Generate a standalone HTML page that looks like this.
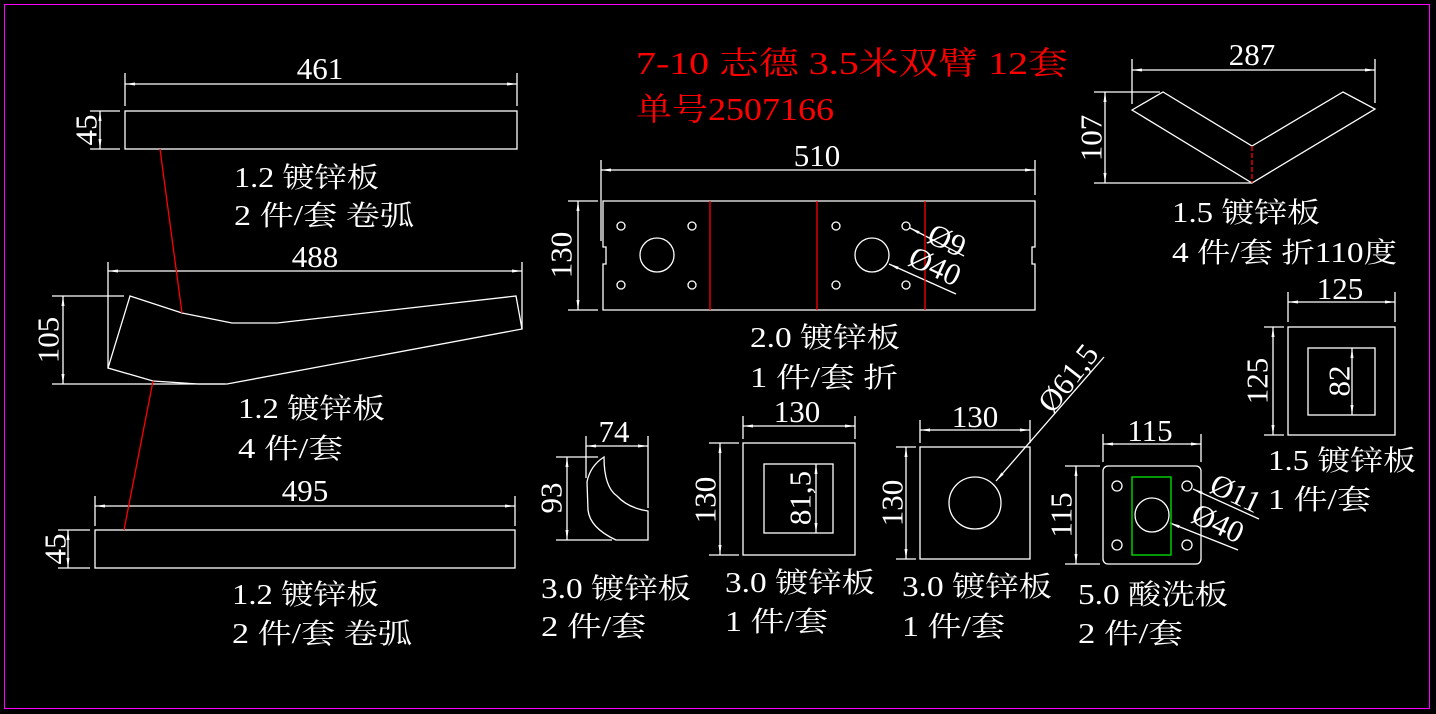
<!DOCTYPE html>
<html><head><meta charset="utf-8"><style>
html,body{margin:0;padding:0;background:#000;}
svg{display:block}
text{font-family:"Liberation Serif","Noto Serif CJK SC",serif;fill:#fff;font-size:28px}
.d{font-size:31px}
.r{fill:#f00;font-size:32px}
</style></head><body>
<svg width="1436" height="714" viewBox="0 0 1436 714" xmlns="http://www.w3.org/2000/svg">
<defs>
<marker id="a" markerWidth="10" markerHeight="6" refX="10" refY="3" orient="auto-start-reverse" markerUnits="userSpaceOnUse"><path d="M10,3 L0,1.5 L0,4.5 Z" fill="#fff"/></marker>
</defs>
<rect x="0" y="0" width="1436" height="714" fill="#000"/>
<rect x="4.5" y="4.5" width="1425" height="704" fill="none" stroke="#f0f" stroke-width="1"/>
<g fill="none" stroke="#fff" stroke-width="1.3">
<rect x="125" y="111" width="392" height="38"/>
<line x1="125" y1="73" x2="125" y2="106"/><line x1="517" y1="73" x2="517" y2="106"/>
<line x1="125" y1="84" x2="517" y2="84" marker-start="url(#a)" marker-end="url(#a)"/>
<line x1="90" y1="111" x2="120" y2="111"/><line x1="90" y1="149" x2="120" y2="149"/>
<line x1="100" y1="111" x2="100" y2="149" marker-start="url(#a)" marker-end="url(#a)"/>
<polygon points="130,296 182,313 232,323 277,323 516,296 522,329 227,384 198,384 153,381 108,368"/>
<line x1="108" y1="262" x2="108" y2="368"/><line x1="522" y1="262" x2="522" y2="329"/>
<line x1="108" y1="271" x2="522" y2="271" marker-start="url(#a)" marker-end="url(#a)"/>
<line x1="52" y1="296" x2="124" y2="296"/><line x1="52" y1="384" x2="225" y2="384"/>
<line x1="63" y1="296" x2="63" y2="384" marker-start="url(#a)" marker-end="url(#a)"/>
<rect x="95" y="530" width="420" height="38"/>
<line x1="95" y1="496" x2="95" y2="526"/><line x1="515" y1="496" x2="515" y2="526"/>
<line x1="95" y1="506" x2="515" y2="506" marker-start="url(#a)" marker-end="url(#a)"/>
<line x1="58" y1="530" x2="90" y2="530"/><line x1="58" y1="568" x2="90" y2="568"/>
<line x1="68" y1="530" x2="68" y2="568" marker-start="url(#a)" marker-end="url(#a)"/>
<path d="M603,201 L1035,201 L1035,247 L1032,247 L1032,264 L1035,264 L1035,310 L603,310 L603,264 L606,264 L606,247 L603,247 Z"/>
<line x1="601" y1="160" x2="601" y2="241"/><line x1="1035" y1="160" x2="1035" y2="195"/>
<line x1="601" y1="170" x2="1035" y2="170" marker-start="url(#a)" marker-end="url(#a)"/>
<line x1="568" y1="201" x2="598" y2="201"/><line x1="568" y1="310" x2="598" y2="310"/>
<line x1="578" y1="201" x2="578" y2="310" marker-start="url(#a)" marker-end="url(#a)"/>
<circle cx="621" cy="226" r="4"/><circle cx="692" cy="226" r="4"/><circle cx="621" cy="285" r="4"/><circle cx="692" cy="285" r="4"/>
<circle cx="657" cy="255" r="17"/>
<circle cx="836" cy="226" r="4"/><circle cx="906" cy="226" r="4"/><circle cx="836" cy="285" r="4"/><circle cx="906" cy="285" r="4"/>
<circle cx="872" cy="255" r="17"/>
<line x1="964" y1="256" x2="910" y2="228" marker-end="url(#a)"/>
<line x1="956" y1="294" x2="889" y2="264" marker-end="url(#a)"/>
<polygon points="1132,110 1163,92 1252,146 1343,92 1375,109 1252,183"/>
<line x1="1132" y1="59" x2="1132" y2="104"/><line x1="1375" y1="59" x2="1375" y2="103"/>
<line x1="1132" y1="70" x2="1375" y2="70" marker-start="url(#a)" marker-end="url(#a)"/>
<line x1="1094" y1="92" x2="1160" y2="92"/><line x1="1094" y1="183" x2="1252" y2="183"/>
<line x1="1105" y1="92" x2="1105" y2="183" marker-start="url(#a)" marker-end="url(#a)"/>
<rect x="1288" y="327" width="107" height="108"/>
<rect x="1308" y="348" width="67" height="67"/>
<line x1="1288" y1="292" x2="1288" y2="322"/><line x1="1395" y1="292" x2="1395" y2="322"/>
<line x1="1288" y1="302" x2="1395" y2="302" marker-start="url(#a)" marker-end="url(#a)"/>
<line x1="1264" y1="327" x2="1284" y2="327"/><line x1="1264" y1="435" x2="1284" y2="435"/>
<line x1="1273" y1="327" x2="1273" y2="435" marker-start="url(#a)" marker-end="url(#a)"/>
<line x1="1352" y1="348" x2="1352" y2="415" marker-start="url(#a)" marker-end="url(#a)"/>
<path d="M604,457 Q604,487 617,496 Q628,508 648,511 L648,540 L616,540 Q590,528 588,510 L587,482 Q590,466 604,457 Z"/>
<line x1="586" y1="436" x2="586" y2="478"/><line x1="648" y1="436" x2="648" y2="508"/>
<line x1="586" y1="446" x2="648" y2="446" marker-start="url(#a)" marker-end="url(#a)"/>
<line x1="556" y1="457" x2="598" y2="457"/><line x1="556" y1="540" x2="612" y2="540"/>
<line x1="567" y1="457" x2="567" y2="540" marker-start="url(#a)" marker-end="url(#a)"/>
<rect x="743" y="443" width="112" height="112"/>
<rect x="764" y="464" width="69" height="69"/>
<line x1="743" y1="416" x2="743" y2="439"/><line x1="855" y1="416" x2="855" y2="439"/>
<line x1="743" y1="426" x2="855" y2="426" marker-start="url(#a)" marker-end="url(#a)"/>
<line x1="709" y1="443" x2="739" y2="443"/><line x1="709" y1="555" x2="739" y2="555"/>
<line x1="720" y1="443" x2="720" y2="555" marker-start="url(#a)" marker-end="url(#a)"/>
<line x1="816" y1="464" x2="816" y2="533" marker-start="url(#a)" marker-end="url(#a)"/>
<rect x="920" y="447" width="110" height="112"/>
<circle cx="975" cy="503" r="26"/>
<line x1="920" y1="420" x2="920" y2="443"/><line x1="1030" y1="420" x2="1030" y2="443"/>
<line x1="920" y1="430" x2="1030" y2="430" marker-start="url(#a)" marker-end="url(#a)"/>
<line x1="896" y1="447" x2="916" y2="447"/><line x1="896" y1="559" x2="916" y2="559"/>
<line x1="906" y1="447" x2="906" y2="559" marker-start="url(#a)" marker-end="url(#a)"/>
<line x1="1104" y1="357" x2="996" y2="481" marker-end="url(#a)"/>
<rect x="1103" y="466" width="98" height="98" rx="5"/>
<circle cx="1152" cy="515" r="17"/>
<circle cx="1117" cy="486" r="5"/><circle cx="1187" cy="486" r="5"/><circle cx="1117" cy="545" r="5"/><circle cx="1187" cy="545" r="5"/>
<line x1="1103" y1="434" x2="1103" y2="462"/><line x1="1201" y1="434" x2="1201" y2="462"/>
<line x1="1103" y1="444" x2="1201" y2="444" marker-start="url(#a)" marker-end="url(#a)"/>
<line x1="1065" y1="466" x2="1100" y2="466"/><line x1="1065" y1="564" x2="1100" y2="564"/>
<line x1="1076" y1="466" x2="1076" y2="564" marker-start="url(#a)" marker-end="url(#a)"/>
<line x1="1259" y1="519" x2="1193" y2="489" marker-end="url(#a)"/>
<line x1="1238" y1="550" x2="1170" y2="523" marker-end="url(#a)"/>
</g>
<rect x="1132" y="477" width="39" height="78" fill="none" stroke="#0c0" stroke-width="1.5"/>
<g stroke="#f00" stroke-width="1.3">
<line x1="160" y1="149" x2="182" y2="313"/>
<line x1="153" y1="381" x2="124" y2="530"/>
<line x1="710" y1="201" x2="710" y2="310"/><line x1="817" y1="201" x2="817" y2="310"/><line x1="925" y1="201" x2="925" y2="310"/>
<line x1="1252" y1="146" x2="1252" y2="183" stroke-dasharray="5,2"/>
</g>
<text class="r" x="636" y="74" textLength="432" lengthAdjust="spacingAndGlyphs">7-10 志德 3.5米双臂 12套</text>
<text class="r" x="636" y="120" textLength="198" lengthAdjust="spacingAndGlyphs">单号2507166</text>
<g text-anchor="middle" class="d">
<text class="d" x="320" y="79">461</text><text class="d" x="315" y="267">488</text><text class="d" x="305" y="501">495</text>
<text class="d" x="817" y="166">510</text><text class="d" x="1252" y="65">287</text><text class="d" x="1340" y="299">125</text>
<text class="d" x="614" y="442">74</text><text class="d" x="797" y="422">130</text><text class="d" x="975" y="427">130</text><text class="d" x="1150" y="441">115</text>
</g>
<g text-anchor="middle" dominant-baseline="central">
<text class="d" transform="translate(86,130) rotate(-90)">45</text>
<text class="d" transform="translate(48,340) rotate(-90)">105</text>
<text class="d" transform="translate(55,549) rotate(-90)">45</text>
<text class="d" transform="translate(561,255) rotate(-90)">130</text>
<text class="d" transform="translate(1091,138) rotate(-90)">107</text>
<text class="d" transform="translate(1257,381) rotate(-90)">125</text>
<text class="d" transform="translate(1339,381) rotate(-90)">82</text>
<text class="d" transform="translate(551,498) rotate(-90)">93</text>
<text class="d" transform="translate(705,500) rotate(-90)">130</text>
<text class="d" transform="translate(800,498) rotate(-90)">81,5</text>
<text class="d" transform="translate(892,503) rotate(-90)">130</text>
<text class="d" transform="translate(1061,515) rotate(-90)">115</text>
<text class="d" transform="translate(947,240) rotate(25)">Ø9</text>
<text class="d" transform="translate(935,266) rotate(25)">Ø40</text>
<text class="d" transform="translate(1068,378) rotate(-52)">Ø61,5</text>
<text class="d" transform="translate(1236,493) rotate(25)">Ø11</text>
<text class="d" transform="translate(1218,523) rotate(25)">Ø40</text>
</g>
<text x="234" y="187" textLength="145" lengthAdjust="spacingAndGlyphs">1.2 镀锌板</text>
<text x="234" y="225" textLength="180" lengthAdjust="spacingAndGlyphs">2 件/套 卷弧</text>
<text x="238" y="418" textLength="147" lengthAdjust="spacingAndGlyphs">1.2 镀锌板</text>
<text x="238" y="458" textLength="105" lengthAdjust="spacingAndGlyphs">4 件/套</text>
<text x="232" y="604" textLength="147" lengthAdjust="spacingAndGlyphs">1.2 镀锌板</text>
<text x="232" y="643" textLength="180" lengthAdjust="spacingAndGlyphs">2 件/套 卷弧</text>
<text x="750" y="347" textLength="150" lengthAdjust="spacingAndGlyphs">2.0 镀锌板</text>
<text x="750" y="387" textLength="148" lengthAdjust="spacingAndGlyphs">1 件/套 折</text>
<text x="1172" y="222" textLength="148" lengthAdjust="spacingAndGlyphs">1.5 镀锌板</text>
<text x="1172" y="262" textLength="225" lengthAdjust="spacingAndGlyphs">4 件/套 折110度</text>
<text x="1268" y="470" textLength="148" lengthAdjust="spacingAndGlyphs">1.5 镀锌板</text>
<text x="1268" y="509" textLength="103" lengthAdjust="spacingAndGlyphs">1 件/套</text>
<text x="541" y="598" textLength="150" lengthAdjust="spacingAndGlyphs">3.0 镀锌板</text>
<text x="541" y="636" textLength="105" lengthAdjust="spacingAndGlyphs">2 件/套</text>
<text x="725" y="592" textLength="150" lengthAdjust="spacingAndGlyphs">3.0 镀锌板</text>
<text x="725" y="631" textLength="103" lengthAdjust="spacingAndGlyphs">1 件/套</text>
<text x="902" y="596" textLength="150" lengthAdjust="spacingAndGlyphs">3.0 镀锌板</text>
<text x="902" y="636" textLength="103" lengthAdjust="spacingAndGlyphs">1 件/套</text>
<text x="1078" y="604" textLength="150" lengthAdjust="spacingAndGlyphs">5.0 酸洗板</text>
<text x="1078" y="643" textLength="105" lengthAdjust="spacingAndGlyphs">2 件/套</text>
</svg>
</body></html>
